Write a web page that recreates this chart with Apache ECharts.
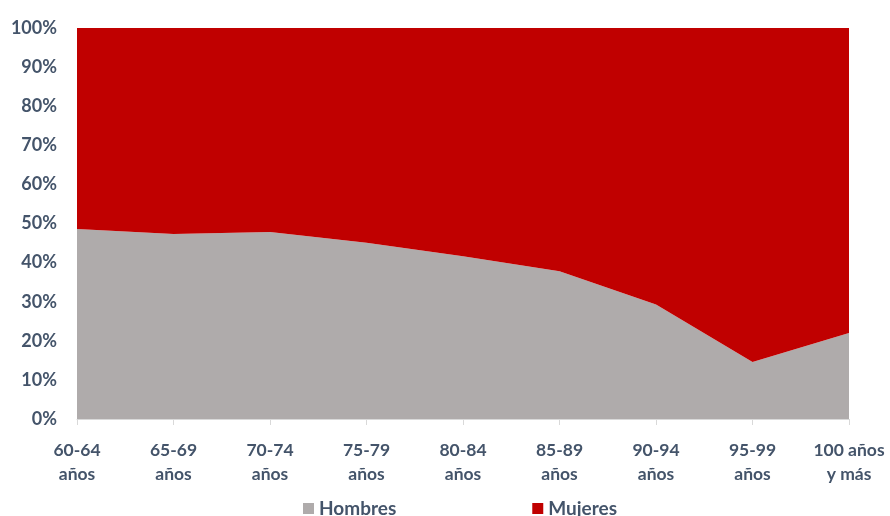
<!DOCTYPE html>
<html><head><meta charset="utf-8">
<script src="https://cdn.jsdelivr.net/npm/echarts@6/dist/echarts.min.js"></script>
<style>html,body{margin:0;padding:0;background:#fff}#c{width:890px;height:516px}</style>
</head><body><div id="c"></div>
<script>
const categories = ['60-64\naños','65-69\naños','70-74\naños','75-79\naños','80-84\naños','85-89\naños','90-94\naños','95-99\naños','100 años\ny más'];
const hombres = [48.6, 47.3, 47.8, 45.1, 41.6, 37.8, 29.3, 14.6, 22.0];
const mujeres = [51.4, 52.7, 52.2, 54.9, 58.4, 62.2, 70.7, 85.4, 78.0];
const yTicks = [0,10,20,30,40,50,60,70,80,90,100];
const txt = '#44546A';
const font = 'Lato';
const chart = echarts.init(document.getElementById('c'));
chart.setOption({
  animation:false,
  grid:{left:77,right:41,top:28,bottom:97},
  legend:{
    left:298, top:494, itemWidth:11, itemHeight:11, icon:'rect', itemGap:136,
    textStyle:{color:txt,fontFamily:font,fontWeight:'bold',fontSize:19},
    data:['Hombres','Mujeres']
  },
  xAxis:{
    type:'category', data:categories, boundaryGap:false,
    axisLine:{lineStyle:{color:'#D9D9D9',width:1}},
    axisTick:{show:true,length:6,lineStyle:{color:'#D9D9D9'}},
    axisLabel:{color:txt,fontFamily:font,fontWeight:'bold',fontSize:17.5,lineHeight:24,margin:19,interval:0}
  },
  yAxis:{
    type:'value', min:0, max:100, interval:10,
    axisLine:{show:false}, axisTick:{show:false}, splitLine:{show:false},
    axisLabel:{color:txt,fontFamily:font,fontWeight:'bold',fontSize:18,margin:20,
      formatter:v=> yTicks.includes(v) ? v+'%' : ''}
  },
  series:[
    {name:'Hombres',type:'line',stack:'t',data:hombres,symbol:'none',
     lineStyle:{width:0},areaStyle:{color:'#AFABAB',opacity:1},itemStyle:{color:'#AFABAB'}},
    {name:'Mujeres',type:'line',stack:'t',data:mujeres,symbol:'none',
     lineStyle:{width:0},areaStyle:{color:'#C00000',opacity:1},itemStyle:{color:'#C00000'}}
  ]
});
</script></body></html>
